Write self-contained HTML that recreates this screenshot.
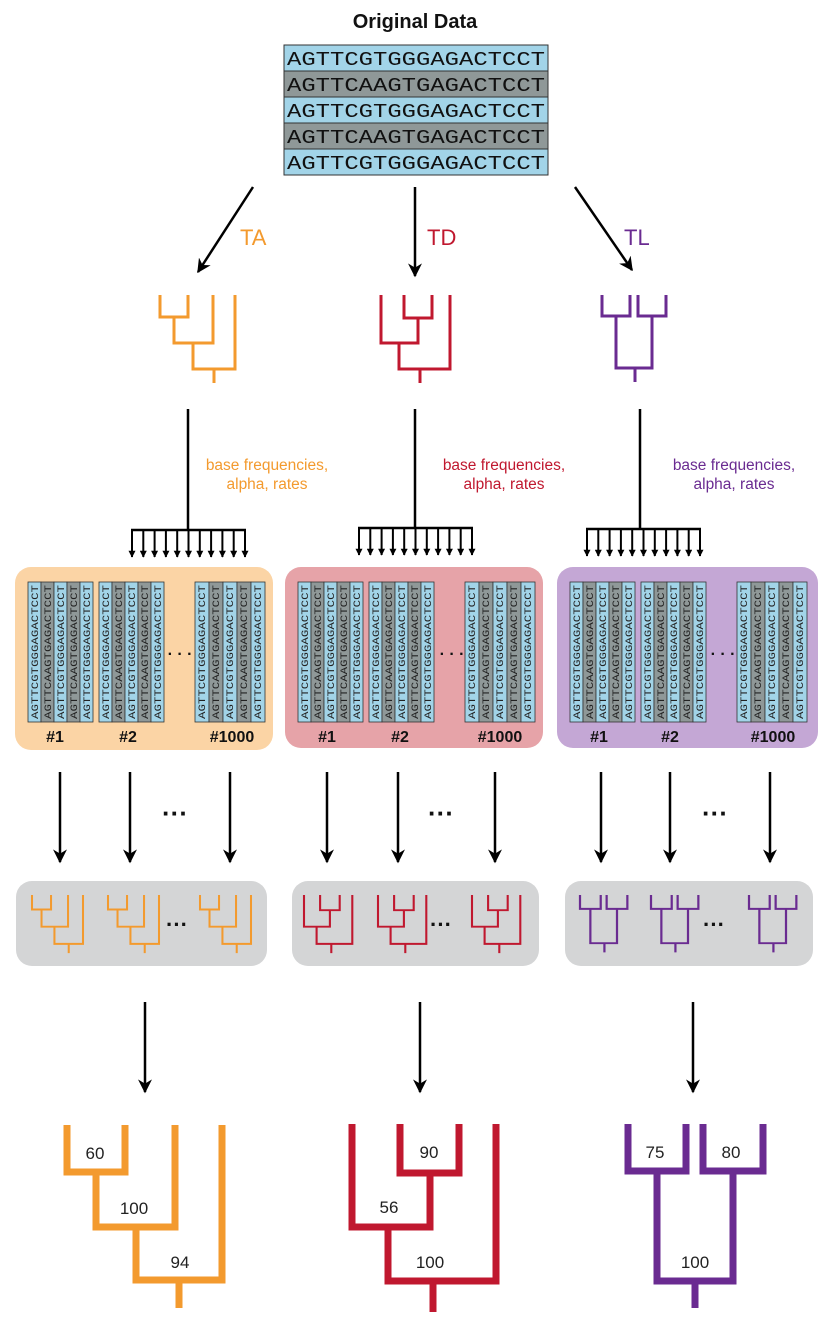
<!DOCTYPE html>
<html><head><meta charset="utf-8"><style>
html,body{margin:0;padding:0;background:#fff}
svg{display:block}
</style></head><body>
<svg width="832" height="1330" viewBox="0 0 832 1330" xmlns="http://www.w3.org/2000/svg" font-family="Liberation Sans, sans-serif">
<defs>
<marker id="ah" viewBox="0 0 10 10" refX="9" refY="5" markerWidth="14" markerHeight="14" markerUnits="userSpaceOnUse" orient="auto"><path d="M0,0 L10,5 L0,10 L3,5 z" fill="#000"/></marker>
<marker id="as" viewBox="0 0 10 10" refX="9" refY="5" markerWidth="7" markerHeight="7" markerUnits="userSpaceOnUse" orient="auto"><path d="M0,0 L10,5 L0,10 z" fill="#000"/></marker>
</defs>

<text x="415" y="28" font-size="20" font-weight="bold" text-anchor="middle" fill="#111">Original Data</text>
<g font-family="Liberation Mono, monospace" font-size="19" fill="#111">
<rect x="284" y="45" width="264" height="26" fill="#a2d4e8" stroke="#333"/>
<rect x="284" y="71" width="264" height="26" fill="#8f9898" stroke="#333"/>
<rect x="284" y="97" width="264" height="26" fill="#a2d4e8" stroke="#333"/>
<rect x="284" y="123" width="264" height="26" fill="#8f9898" stroke="#333"/>
<rect x="284" y="149" width="264" height="26" fill="#a2d4e8" stroke="#333"/>
<text x="287" y="65" textLength="258" lengthAdjust="spacingAndGlyphs">AGTTCGTGGGAGACTCCT</text>
<text x="287" y="91" textLength="258" lengthAdjust="spacingAndGlyphs">AGTTCAAGTGAGACTCCT</text>
<text x="287" y="117" textLength="258" lengthAdjust="spacingAndGlyphs">AGTTCGTGGGAGACTCCT</text>
<text x="287" y="143" textLength="258" lengthAdjust="spacingAndGlyphs">AGTTCAAGTGAGACTCCT</text>
<text x="287" y="169" textLength="258" lengthAdjust="spacingAndGlyphs">AGTTCGTGGGAGACTCCT</text>
</g>

<g stroke="#000" stroke-width="2.5" fill="none" marker-end="url(#ah)">
<line x1="253" y1="187" x2="198" y2="272"/>
<line x1="415" y1="187" x2="415" y2="276"/>
<line x1="575" y1="187" x2="632" y2="270"/>
</g>
<text x="240" y="245" font-size="22" fill="#f39a2e">TA</text>
<text x="427" y="245" font-size="22" fill="#c0182f">TD</text>
<text x="624" y="245" font-size="22" fill="#6a2b91">TL</text>

<g fill="none" stroke-width="3">
<path stroke="#f39a2e" d="M160 295 V317 H188 V295 M174 317 V343 H213 V295 M193 343 V369 H235 V295 M214 369 V383"/>
<path stroke="#c0182f" d="M404 295 V318 H432 V295 M418 318 V343 H381 V295 M399 343 V369 H450 V295 M420 369 V383"/>
<path stroke="#6a2b91" d="M602 295 V316 H630 V295 M638 295 V316 H666 V295 M616 316 V368 H652 V316 M635 368 V382"/>
</g>

<g stroke="#000" stroke-width="2.5" fill="none">
<line x1="188" y1="409" x2="188" y2="530"/><line x1="131" y1="530" x2="246" y2="530"/>
<line x1="415" y1="409" x2="415" y2="528"/><line x1="358" y1="528" x2="473" y2="528"/>
<line x1="640" y1="409" x2="640" y2="529"/><line x1="586" y1="529" x2="701" y2="529"/>
</g>
<g stroke="#000" stroke-width="2" marker-end="url(#as)">
<line x1="132" y1="530" x2="132" y2="557"/><line x1="143.3" y1="530" x2="143.3" y2="557"/><line x1="154.6" y1="530" x2="154.6" y2="557"/><line x1="165.9" y1="530" x2="165.9" y2="557"/><line x1="177.2" y1="530" x2="177.2" y2="557"/><line x1="188.5" y1="530" x2="188.5" y2="557"/><line x1="199.8" y1="530" x2="199.8" y2="557"/><line x1="211.1" y1="530" x2="211.1" y2="557"/><line x1="222.4" y1="530" x2="222.4" y2="557"/><line x1="233.7" y1="530" x2="233.7" y2="557"/><line x1="245" y1="530" x2="245" y2="557"/>
<line x1="359" y1="528" x2="359" y2="555"/><line x1="370.3" y1="528" x2="370.3" y2="555"/><line x1="381.6" y1="528" x2="381.6" y2="555"/><line x1="392.9" y1="528" x2="392.9" y2="555"/><line x1="404.2" y1="528" x2="404.2" y2="555"/><line x1="415.5" y1="528" x2="415.5" y2="555"/><line x1="426.8" y1="528" x2="426.8" y2="555"/><line x1="438.1" y1="528" x2="438.1" y2="555"/><line x1="449.4" y1="528" x2="449.4" y2="555"/><line x1="460.7" y1="528" x2="460.7" y2="555"/><line x1="472" y1="528" x2="472" y2="555"/>
<line x1="587" y1="529" x2="587" y2="556"/><line x1="598.3" y1="529" x2="598.3" y2="556"/><line x1="609.6" y1="529" x2="609.6" y2="556"/><line x1="620.9" y1="529" x2="620.9" y2="556"/><line x1="632.2" y1="529" x2="632.2" y2="556"/><line x1="643.5" y1="529" x2="643.5" y2="556"/><line x1="654.8" y1="529" x2="654.8" y2="556"/><line x1="666.1" y1="529" x2="666.1" y2="556"/><line x1="677.4" y1="529" x2="677.4" y2="556"/><line x1="688.7" y1="529" x2="688.7" y2="556"/><line x1="700" y1="529" x2="700" y2="556"/>
</g>
<g font-size="15.5" text-anchor="middle">
<text x="267" y="470" fill="#f39a2e">base frequencies,</text><text x="267" y="489" fill="#f39a2e">alpha, rates</text>
<text x="504" y="470" fill="#c0182f">base frequencies,</text><text x="504" y="489" fill="#c0182f">alpha, rates</text>
<text x="734" y="470" fill="#6a2b91">base frequencies,</text><text x="734" y="489" fill="#6a2b91">alpha, rates</text>
</g>

<rect x="15" y="567" width="258" height="183" rx="16" fill="#fbd4a5"/>
<rect x="285" y="567" width="258" height="181" rx="16" fill="#e6a3a8"/>
<rect x="557" y="567" width="261" height="181" rx="16" fill="#c4a7d5"/>

<g font-family="Liberation Mono, monospace" font-size="10" fill="#222">
<g transform="translate(28,582)">
<rect x="0" width="13" height="140" fill="#a2d4e8" stroke="#333" stroke-width="0.8"/><rect x="13" width="13" height="140" fill="#8f9898" stroke="#333" stroke-width="0.8"/><rect x="26" width="13" height="140" fill="#a2d4e8" stroke="#333" stroke-width="0.8"/><rect x="39" width="13" height="140" fill="#8f9898" stroke="#333" stroke-width="0.8"/><rect x="52" width="13" height="140" fill="#a2d4e8" stroke="#333" stroke-width="0.8"/>
<text transform="translate(10,137) rotate(-90)" textLength="134" lengthAdjust="spacingAndGlyphs">AGTTCGTGGGAGACTCCT</text><text transform="translate(23,137) rotate(-90)" textLength="134" lengthAdjust="spacingAndGlyphs">AGTTCAAGTGAGACTCCT</text><text transform="translate(36,137) rotate(-90)" textLength="134" lengthAdjust="spacingAndGlyphs">AGTTCGTGGGAGACTCCT</text><text transform="translate(49,137) rotate(-90)" textLength="134" lengthAdjust="spacingAndGlyphs">AGTTCAAGTGAGACTCCT</text><text transform="translate(62,137) rotate(-90)" textLength="134" lengthAdjust="spacingAndGlyphs">AGTTCGTGGGAGACTCCT</text>
</g>
<g transform="translate(99,582)">
<rect x="0" width="13" height="140" fill="#a2d4e8" stroke="#333" stroke-width="0.8"/><rect x="13" width="13" height="140" fill="#8f9898" stroke="#333" stroke-width="0.8"/><rect x="26" width="13" height="140" fill="#a2d4e8" stroke="#333" stroke-width="0.8"/><rect x="39" width="13" height="140" fill="#8f9898" stroke="#333" stroke-width="0.8"/><rect x="52" width="13" height="140" fill="#a2d4e8" stroke="#333" stroke-width="0.8"/>
<text transform="translate(10,137) rotate(-90)" textLength="134" lengthAdjust="spacingAndGlyphs">AGTTCGTGGGAGACTCCT</text><text transform="translate(23,137) rotate(-90)" textLength="134" lengthAdjust="spacingAndGlyphs">AGTTCAAGTGAGACTCCT</text><text transform="translate(36,137) rotate(-90)" textLength="134" lengthAdjust="spacingAndGlyphs">AGTTCGTGGGAGACTCCT</text><text transform="translate(49,137) rotate(-90)" textLength="134" lengthAdjust="spacingAndGlyphs">AGTTCAAGTGAGACTCCT</text><text transform="translate(62,137) rotate(-90)" textLength="134" lengthAdjust="spacingAndGlyphs">AGTTCGTGGGAGACTCCT</text>
</g>
<g transform="translate(195,582)">
<rect x="0" width="14" height="140" fill="#a2d4e8" stroke="#333" stroke-width="0.8"/><rect x="14" width="14" height="140" fill="#8f9898" stroke="#333" stroke-width="0.8"/><rect x="28" width="14" height="140" fill="#a2d4e8" stroke="#333" stroke-width="0.8"/><rect x="42" width="14" height="140" fill="#8f9898" stroke="#333" stroke-width="0.8"/><rect x="56" width="14" height="140" fill="#a2d4e8" stroke="#333" stroke-width="0.8"/>
<text transform="translate(10,137) rotate(-90)" textLength="134" lengthAdjust="spacingAndGlyphs">AGTTCGTGGGAGACTCCT</text><text transform="translate(24,137) rotate(-90)" textLength="134" lengthAdjust="spacingAndGlyphs">AGTTCAAGTGAGACTCCT</text><text transform="translate(38,137) rotate(-90)" textLength="134" lengthAdjust="spacingAndGlyphs">AGTTCGTGGGAGACTCCT</text><text transform="translate(52,137) rotate(-90)" textLength="134" lengthAdjust="spacingAndGlyphs">AGTTCAAGTGAGACTCCT</text><text transform="translate(66,137) rotate(-90)" textLength="134" lengthAdjust="spacingAndGlyphs">AGTTCGTGGGAGACTCCT</text>
</g>

<g transform="translate(298,582)">
<rect x="0" width="13" height="140" fill="#a2d4e8" stroke="#333" stroke-width="0.8"/><rect x="13" width="13" height="140" fill="#8f9898" stroke="#333" stroke-width="0.8"/><rect x="26" width="13" height="140" fill="#a2d4e8" stroke="#333" stroke-width="0.8"/><rect x="39" width="13" height="140" fill="#8f9898" stroke="#333" stroke-width="0.8"/><rect x="52" width="13" height="140" fill="#a2d4e8" stroke="#333" stroke-width="0.8"/>
<text transform="translate(10,137) rotate(-90)" textLength="134" lengthAdjust="spacingAndGlyphs">AGTTCGTGGGAGACTCCT</text><text transform="translate(23,137) rotate(-90)" textLength="134" lengthAdjust="spacingAndGlyphs">AGTTCAAGTGAGACTCCT</text><text transform="translate(36,137) rotate(-90)" textLength="134" lengthAdjust="spacingAndGlyphs">AGTTCGTGGGAGACTCCT</text><text transform="translate(49,137) rotate(-90)" textLength="134" lengthAdjust="spacingAndGlyphs">AGTTCAAGTGAGACTCCT</text><text transform="translate(62,137) rotate(-90)" textLength="134" lengthAdjust="spacingAndGlyphs">AGTTCGTGGGAGACTCCT</text>
</g>
<g transform="translate(369,582)">
<rect x="0" width="13" height="140" fill="#a2d4e8" stroke="#333" stroke-width="0.8"/><rect x="13" width="13" height="140" fill="#8f9898" stroke="#333" stroke-width="0.8"/><rect x="26" width="13" height="140" fill="#a2d4e8" stroke="#333" stroke-width="0.8"/><rect x="39" width="13" height="140" fill="#8f9898" stroke="#333" stroke-width="0.8"/><rect x="52" width="13" height="140" fill="#a2d4e8" stroke="#333" stroke-width="0.8"/>
<text transform="translate(10,137) rotate(-90)" textLength="134" lengthAdjust="spacingAndGlyphs">AGTTCGTGGGAGACTCCT</text><text transform="translate(23,137) rotate(-90)" textLength="134" lengthAdjust="spacingAndGlyphs">AGTTCAAGTGAGACTCCT</text><text transform="translate(36,137) rotate(-90)" textLength="134" lengthAdjust="spacingAndGlyphs">AGTTCGTGGGAGACTCCT</text><text transform="translate(49,137) rotate(-90)" textLength="134" lengthAdjust="spacingAndGlyphs">AGTTCAAGTGAGACTCCT</text><text transform="translate(62,137) rotate(-90)" textLength="134" lengthAdjust="spacingAndGlyphs">AGTTCGTGGGAGACTCCT</text>
</g>
<g transform="translate(465,582)">
<rect x="0" width="14" height="140" fill="#a2d4e8" stroke="#333" stroke-width="0.8"/><rect x="14" width="14" height="140" fill="#8f9898" stroke="#333" stroke-width="0.8"/><rect x="28" width="14" height="140" fill="#a2d4e8" stroke="#333" stroke-width="0.8"/><rect x="42" width="14" height="140" fill="#8f9898" stroke="#333" stroke-width="0.8"/><rect x="56" width="14" height="140" fill="#a2d4e8" stroke="#333" stroke-width="0.8"/>
<text transform="translate(10,137) rotate(-90)" textLength="134" lengthAdjust="spacingAndGlyphs">AGTTCGTGGGAGACTCCT</text><text transform="translate(24,137) rotate(-90)" textLength="134" lengthAdjust="spacingAndGlyphs">AGTTCAAGTGAGACTCCT</text><text transform="translate(38,137) rotate(-90)" textLength="134" lengthAdjust="spacingAndGlyphs">AGTTCGTGGGAGACTCCT</text><text transform="translate(52,137) rotate(-90)" textLength="134" lengthAdjust="spacingAndGlyphs">AGTTCAAGTGAGACTCCT</text><text transform="translate(66,137) rotate(-90)" textLength="134" lengthAdjust="spacingAndGlyphs">AGTTCGTGGGAGACTCCT</text>
</g>

<g transform="translate(570,582)">
<rect x="0" width="13" height="140" fill="#a2d4e8" stroke="#333" stroke-width="0.8"/><rect x="13" width="13" height="140" fill="#8f9898" stroke="#333" stroke-width="0.8"/><rect x="26" width="13" height="140" fill="#a2d4e8" stroke="#333" stroke-width="0.8"/><rect x="39" width="13" height="140" fill="#8f9898" stroke="#333" stroke-width="0.8"/><rect x="52" width="13" height="140" fill="#a2d4e8" stroke="#333" stroke-width="0.8"/>
<text transform="translate(10,137) rotate(-90)" textLength="134" lengthAdjust="spacingAndGlyphs">AGTTCGTGGGAGACTCCT</text><text transform="translate(23,137) rotate(-90)" textLength="134" lengthAdjust="spacingAndGlyphs">AGTTCAAGTGAGACTCCT</text><text transform="translate(36,137) rotate(-90)" textLength="134" lengthAdjust="spacingAndGlyphs">AGTTCGTGGGAGACTCCT</text><text transform="translate(49,137) rotate(-90)" textLength="134" lengthAdjust="spacingAndGlyphs">AGTTCAAGTGAGACTCCT</text><text transform="translate(62,137) rotate(-90)" textLength="134" lengthAdjust="spacingAndGlyphs">AGTTCGTGGGAGACTCCT</text>
</g>
<g transform="translate(641,582)">
<rect x="0" width="13" height="140" fill="#a2d4e8" stroke="#333" stroke-width="0.8"/><rect x="13" width="13" height="140" fill="#8f9898" stroke="#333" stroke-width="0.8"/><rect x="26" width="13" height="140" fill="#a2d4e8" stroke="#333" stroke-width="0.8"/><rect x="39" width="13" height="140" fill="#8f9898" stroke="#333" stroke-width="0.8"/><rect x="52" width="13" height="140" fill="#a2d4e8" stroke="#333" stroke-width="0.8"/>
<text transform="translate(10,137) rotate(-90)" textLength="134" lengthAdjust="spacingAndGlyphs">AGTTCGTGGGAGACTCCT</text><text transform="translate(23,137) rotate(-90)" textLength="134" lengthAdjust="spacingAndGlyphs">AGTTCAAGTGAGACTCCT</text><text transform="translate(36,137) rotate(-90)" textLength="134" lengthAdjust="spacingAndGlyphs">AGTTCGTGGGAGACTCCT</text><text transform="translate(49,137) rotate(-90)" textLength="134" lengthAdjust="spacingAndGlyphs">AGTTCAAGTGAGACTCCT</text><text transform="translate(62,137) rotate(-90)" textLength="134" lengthAdjust="spacingAndGlyphs">AGTTCGTGGGAGACTCCT</text>
</g>
<g transform="translate(737,582)">
<rect x="0" width="14" height="140" fill="#a2d4e8" stroke="#333" stroke-width="0.8"/><rect x="14" width="14" height="140" fill="#8f9898" stroke="#333" stroke-width="0.8"/><rect x="28" width="14" height="140" fill="#a2d4e8" stroke="#333" stroke-width="0.8"/><rect x="42" width="14" height="140" fill="#8f9898" stroke="#333" stroke-width="0.8"/><rect x="56" width="14" height="140" fill="#a2d4e8" stroke="#333" stroke-width="0.8"/>
<text transform="translate(10,137) rotate(-90)" textLength="134" lengthAdjust="spacingAndGlyphs">AGTTCGTGGGAGACTCCT</text><text transform="translate(24,137) rotate(-90)" textLength="134" lengthAdjust="spacingAndGlyphs">AGTTCAAGTGAGACTCCT</text><text transform="translate(38,137) rotate(-90)" textLength="134" lengthAdjust="spacingAndGlyphs">AGTTCGTGGGAGACTCCT</text><text transform="translate(52,137) rotate(-90)" textLength="134" lengthAdjust="spacingAndGlyphs">AGTTCAAGTGAGACTCCT</text><text transform="translate(66,137) rotate(-90)" textLength="134" lengthAdjust="spacingAndGlyphs">AGTTCGTGGGAGACTCCT</text>
</g>
</g>

<g font-size="16" fill="#111" text-anchor="middle" font-weight="bold">
<text x="55" y="742">#1</text><text x="128" y="742">#2</text><text x="232" y="742">#1000</text>
<text x="327" y="742">#1</text><text x="400" y="742">#2</text><text x="500" y="742">#1000</text>
<text x="599" y="742">#1</text><text x="670" y="742">#2</text><text x="773" y="742">#1000</text>
</g>
<g font-size="16" font-weight="bold" fill="#111" text-anchor="middle">
<text x="180" y="659">· · ·</text><text x="452" y="659">· · ·</text><text x="723" y="659">· · ·</text>
</g>

<g stroke="#000" stroke-width="2.5" marker-end="url(#ah)">
<line x1="60" y1="772" x2="60" y2="862"/><line x1="130" y1="772" x2="130" y2="862"/><line x1="230" y1="772" x2="230" y2="862"/>
<line x1="327" y1="772" x2="327" y2="862"/><line x1="398" y1="772" x2="398" y2="862"/><line x1="495" y1="772" x2="495" y2="862"/>
<line x1="601" y1="772" x2="601" y2="862"/><line x1="670" y1="772" x2="670" y2="862"/><line x1="770" y1="772" x2="770" y2="862"/>
</g>
<g font-size="26" font-weight="bold" fill="#111" text-anchor="middle">
<text x="175" y="822">···</text><text x="441" y="822">···</text><text x="715" y="822">···</text>
</g>

<rect x="16" y="881" width="251" height="85" rx="16" fill="#d4d5d6"/>
<rect x="292" y="881" width="247" height="85" rx="16" fill="#d4d5d6"/>
<rect x="565" y="881" width="248" height="85" rx="16" fill="#d4d5d6"/>

<g fill="none" stroke-width="3">
<path transform="translate(32,895) scale(0.68,0.66) translate(-160,-295)" stroke="#f39a2e" d="M160 295 V317 H188 V295 M174 317 V343 H213 V295 M193 343 V369 H235 V295 M214 369 V383"/>
<path transform="translate(108,895) scale(0.68,0.66) translate(-160,-295)" stroke="#f39a2e" d="M160 295 V317 H188 V295 M174 317 V343 H213 V295 M193 343 V369 H235 V295 M214 369 V383"/>
<path transform="translate(200,895) scale(0.68,0.66) translate(-160,-295)" stroke="#f39a2e" d="M160 295 V317 H188 V295 M174 317 V343 H213 V295 M193 343 V369 H235 V295 M214 369 V383"/>
<path transform="translate(304,895) scale(0.7,0.66) translate(-381,-295)" stroke="#c0182f" d="M404 295 V318 H432 V295 M418 318 V343 H381 V295 M399 343 V369 H450 V295 M420 369 V383"/>
<path transform="translate(378,895) scale(0.7,0.66) translate(-381,-295)" stroke="#c0182f" d="M404 295 V318 H432 V295 M418 318 V343 H381 V295 M399 343 V369 H450 V295 M420 369 V383"/>
<path transform="translate(472,895) scale(0.7,0.66) translate(-381,-295)" stroke="#c0182f" d="M404 295 V318 H432 V295 M418 318 V343 H381 V295 M399 343 V369 H450 V295 M420 369 V383"/>
<path transform="translate(580,895) scale(0.74,0.66) translate(-602,-295)" stroke="#6a2b91" d="M602 295 V316 H630 V295 M638 295 V316 H666 V295 M616 316 V368 H652 V316 M635 368 V382"/>
<path transform="translate(651,895) scale(0.74,0.66) translate(-602,-295)" stroke="#6a2b91" d="M602 295 V316 H630 V295 M638 295 V316 H666 V295 M616 316 V368 H652 V316 M635 368 V382"/>
<path transform="translate(749,895) scale(0.74,0.66) translate(-602,-295)" stroke="#6a2b91" d="M602 295 V316 H630 V295 M638 295 V316 H666 V295 M616 316 V368 H652 V316 M635 368 V382"/>
</g>
<g font-size="22" font-weight="bold" fill="#111" text-anchor="middle">
<text x="177" y="932">···</text><text x="441" y="932">···</text><text x="714" y="932">···</text>
</g>

<g stroke="#000" stroke-width="2.5" marker-end="url(#ah)">
<line x1="145" y1="1002" x2="145" y2="1092"/><line x1="420" y1="1002" x2="420" y2="1092"/><line x1="693" y1="1002" x2="693" y2="1092"/>
</g>

<g fill="none" stroke-width="7" stroke-linejoin="miter">
<path stroke="#f39a2e" d="M67 1125 V1172 H125 V1125 M96 1172 V1227 H175 V1125 M136 1227 V1280 H222 V1125 M179 1280 V1308"/>
<path stroke="#c0182f" d="M400 1124 V1173 H459 V1124 M430 1173 V1227 H352 V1124 M388 1227 V1281 H496 V1124 M433 1281 V1312"/>
<path stroke="#6a2b91" d="M628 1124 V1171 H686 V1124 M703 1124 V1171 H763 V1124 M657 1171 V1281 H733 V1171 M695 1281 V1308"/>
</g>
<g font-size="17" fill="#222" text-anchor="middle">
<text x="95" y="1159">60</text><text x="134" y="1214">100</text><text x="180" y="1268">94</text>
<text x="429" y="1158">90</text><text x="389" y="1213">56</text><text x="430" y="1268">100</text>
<text x="655" y="1158">75</text><text x="731" y="1158">80</text><text x="695" y="1268">100</text>
</g>
</svg>
</body></html>
